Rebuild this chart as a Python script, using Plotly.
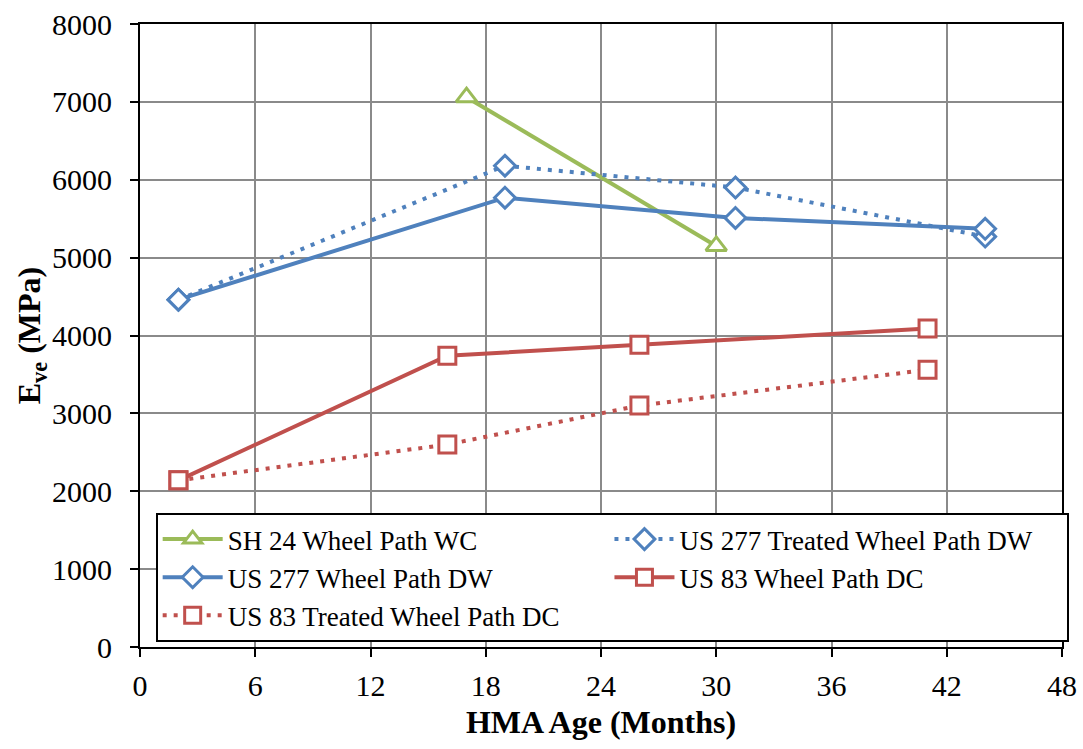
import plotly.graph_objects as go

sh24_x = [17, 30]
sh24_y = [7060, 5150]

us277_x = [2, 19, 31, 44]
us277_y = [4460, 5770, 5510, 5370]

us277t_x = [2, 19, 31, 44]
us277t_y = [4460, 6180, 5900, 5270]

us83_x = [2, 16, 26, 41]
us83_y = [2140, 3740, 3880, 4090]

us83t_x = [2, 16, 26, 41]
us83t_y = [2140, 2600, 3100, 3560]

GREEN = "#9BBB59"
BLUE = "#4F81BD"
RED = "#C0504D"

fig = go.Figure()

def add(x, y, name, color, dash, symbol, size):
    fig.add_trace(go.Scatter(
        x=x, y=y, name=name, mode="lines+markers",
        line=dict(color=color, width=4, dash=dash),
        marker=dict(symbol=symbol, size=size, color="white",
                    line=dict(color=color, width=3)),
    ))

DOT = "4px,7px"
add(sh24_x, sh24_y, "SH 24 Wheel Path WC", GREEN, "solid", "triangle-up", 18)
add(us277t_x, us277t_y, "US 277 Treated Wheel Path DW", BLUE, DOT, "diamond", 16)
add(us277_x, us277_y, "US 277 Wheel Path DW", BLUE, "solid", "diamond", 16)
add(us83_x, us83_y, "US 83 Wheel Path DC", RED, "solid", "square", 17)
add(us83t_x, us83t_y, "US 83 Treated Wheel Path DC", RED, DOT, "square", 17)

FF = "Liberation Serif, Times New Roman, serif"

fig.update_layout(
    width=1083, height=749,
    margin=dict(l=140, r=21, t=24, b=102),
    paper_bgcolor="white", plot_bgcolor="white",
    font=dict(family=FF, size=30, color="black"),
    showlegend=True,
    legend=dict(
        orientation="h", x=0.017, y=0.215, xanchor="left", yanchor="top",
        entrywidth=0.49, entrywidthmode="fraction",
        bordercolor="black", borderwidth=2, bgcolor="white",
        font=dict(family=FF, size=27, color="black"),
        itemwidth=60, tracegroupgap=0,
    ),
    xaxis=dict(
        range=[0, 48], tickvals=[0, 6, 12, 18, 24, 30, 36, 42, 48],
        tickfont=dict(family=FF, size=30, color="black"),
        ticklabelstandoff=3,
        showgrid=True, gridcolor="#8a8a8a", gridwidth=2,
        showline=True, linecolor="black", linewidth=2, mirror=True,
        ticks="outside", ticklen=8, tickcolor="black", tickwidth=2,
        zeroline=False, automargin=False,
        title=dict(text="<b>HMA Age (Months)</b>", font=dict(family=FF, size=32, color="black"), standoff=10),
    ),
    yaxis=dict(
        range=[0, 8000], dtick=1000,
        tickfont=dict(family=FF, size=30, color="black"),
        ticklabelstandoff=12,
        showgrid=True, gridcolor="#8a8a8a", gridwidth=2,
        showline=True, linecolor="black", linewidth=2, mirror=True,
        ticks="outside", ticklen=8, tickcolor="black", tickwidth=2,
        zeroline=False, automargin=False,
        title=dict(text="<b>E<sub>ve</sub> (MPa)</b>", font=dict(family=FF, size=32, color="black"), standoff=0),
    ),
)

fig.write_html("out.html")
